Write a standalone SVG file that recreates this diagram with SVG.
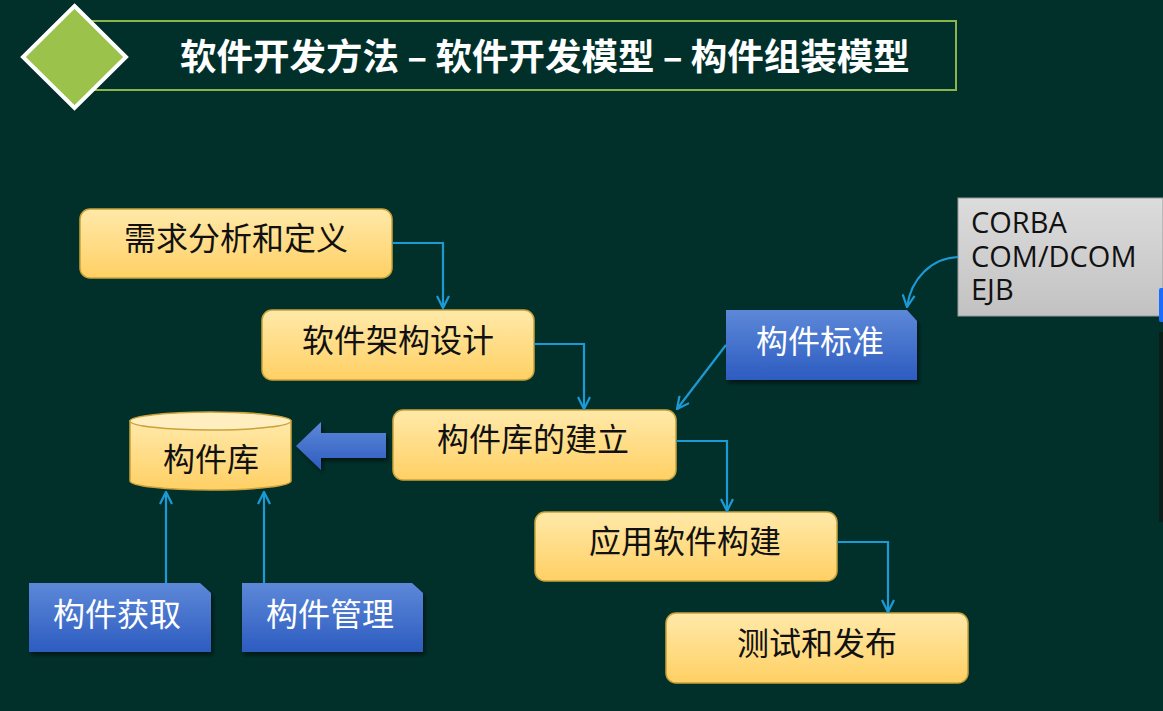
<svg xmlns="http://www.w3.org/2000/svg" width="1163" height="711" viewBox="0 0 1163 711">
<defs>
<linearGradient id="gy" x1="0" y1="0" x2="0" y2="1"><stop offset="0" stop-color="#FFE9A9"/><stop offset="1" stop-color="#FFD064"/></linearGradient>
<linearGradient id="gb" x1="0" y1="0" x2="0" y2="1"><stop offset="0" stop-color="#5D88D8"/><stop offset="1" stop-color="#2D5CC0"/></linearGradient>
<linearGradient id="gg" x1="0" y1="0" x2="0" y2="1"><stop offset="0" stop-color="#DCDCDC"/><stop offset="1" stop-color="#C2C2C2"/></linearGradient>
<filter id="sh" x="-10%" y="-10%" width="130%" height="140%"><feDropShadow dx="2" dy="3" stdDeviation="2" flood-color="#000" flood-opacity="0.55"/></filter>
<marker id="ah" viewBox="0 0 14 14" refX="13" refY="7" markerWidth="14" markerHeight="14" markerUnits="userSpaceOnUse" orient="auto"><path d="M1,1 L13,7 L1,13" fill="none" stroke="#1C9AD6" stroke-width="2.2"/></marker>
</defs>
<style>
.yb{fill:url(#gy);stroke:#C9A23A;stroke-width:1.5}
.bb{fill:url(#gb);filter:url(#sh)}
.ty{font-family:"Noto Sans CJK SC","Noto Sans",sans-serif;font-size:32px;fill:#111;text-anchor:middle}
.tw{font-family:"Noto Sans CJK SC","Noto Sans",sans-serif;font-size:32px;fill:#fff;text-anchor:middle}
.cn{fill:none;stroke:#1C9AD6;stroke-width:2.2;marker-end:url(#ah)}
</style>
<rect width="1163" height="711" fill="#01302B"/>
<g id="title">
<rect x="92" y="21" width="864" height="69" fill="none" stroke="#8CB44C" stroke-width="2"/>
<polygon points="74.5,6 126,57 74.5,108 23,57" fill="#9BC24B" stroke="#fff" stroke-width="4"/>
<text x="180" y="70" font-family="'Noto Sans CJK SC','Noto Sans',sans-serif" font-size="36.5" font-weight="bold" fill="#fff">软件开发方法 – 软件开发模型 – 构件组装模型</text>
</g>
<g id="n1"><rect class="yb" x="80" y="209" width="312" height="69" rx="10"/><text class="ty" x="236" y="250">需求分析和定义</text></g>
<g id="n2"><rect class="yb" x="262" y="310" width="272" height="70" rx="10"/><text class="ty" x="398" y="352">软件架构设计</text></g>
<g id="n3"><rect class="yb" x="393" y="410" width="283" height="70" rx="10"/><text class="ty" x="533" y="451">构件库的建立</text></g>
<g id="n4"><rect class="yb" x="535" y="512" width="302" height="69" rx="10"/><text class="ty" x="685" y="553">应用软件构建</text></g>
<g id="n5"><rect class="yb" x="666" y="613" width="302" height="70" rx="10"/><text class="ty" x="817" y="655">测试和发布</text></g>
<g id="lib">
<path class="yb" d="M130,421 L130,481 A80.5,9 0 0 0 291,481 L291,421 Z"/>
<ellipse cx="210.5" cy="421" rx="80.5" ry="9" fill="#FFEFC0" stroke="#C9A23A" stroke-width="1.5"/>
<text class="ty" x="211" y="471">构件库</text>
</g>
<g id="bigarrow"><path class="bb" d="M386,433 L321,433 L321,422 L296,446 L321,470 L321,458 L386,458 Z"/></g>
<g id="std"><path class="bb" d="M726,310 L907,310 L917,321 L917,380 L726,380 Z"/><text class="tw" x="820" y="353">构件标准</text></g>
<g id="get"><path class="bb" d="M29,583 L200,583 L211,593 L211,652 L29,652 Z"/><text class="tw" x="117" y="626">构件获取</text></g>
<g id="mgmt"><path class="bb" d="M242,583 L412,583 L423,593 L423,652 L242,652 Z"/><text class="tw" x="330" y="626">构件管理</text></g>
<g id="spec">
<rect x="958" y="198" width="205" height="118" fill="url(#gg)" stroke="#9A9A9A" stroke-width="1"/>
<g font-family="'Open Sans','Liberation Sans',sans-serif" font-size="29" fill="#111">
<text x="971" y="233">CORBA</text><text x="971" y="267">COM/DCOM</text><text x="971" y="300">EJB</text>
</g>
</g>
<g id="connectors">
<path class="cn" d="M392,243 L443,243 L443,308"/>
<path class="cn" d="M534,344 L584,344 L584,409"/>
<path class="cn" d="M676,441 L727,441 L727,511"/>
<path class="cn" d="M837,542 L888,542 L888,612"/>
<path class="cn" d="M726,345 L677,409"/>
<path class="cn" d="M958,257 C932,258 911,278 907,307"/>
<path class="cn" d="M166,583 L166,492"/>
<path class="cn" d="M264,583 L264,492"/>
</g>
<rect x="1159" y="288" width="6" height="34" rx="2" fill="#1A6CFF"/>
<rect x="1159" y="332" width="6" height="190" fill="#0B1C19"/>
</svg>
